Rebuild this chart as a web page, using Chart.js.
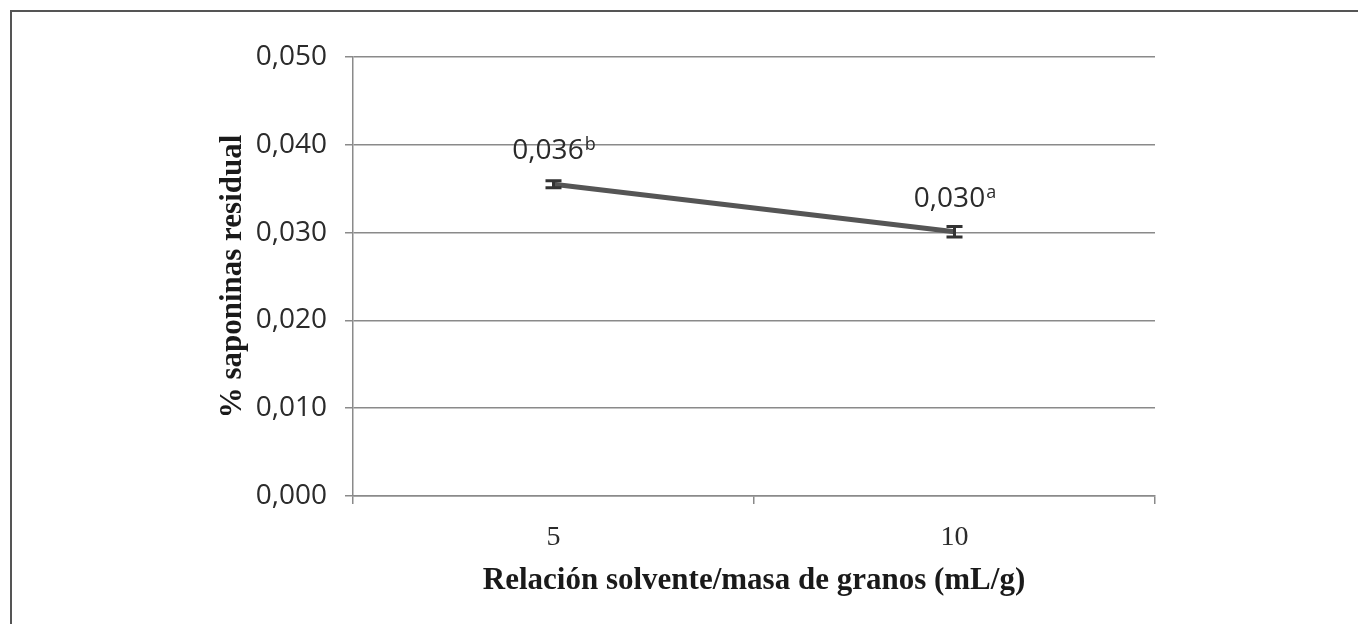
<!DOCTYPE html>
<html>
<head>
<meta charset="utf-8">
<script src="https://cdn.jsdelivr.net/npm/chart.js@4"></script>
<style>
  body { margin: 0; background: #fff; }
  canvas { display: block; }
</style>
</head>
<body>
<canvas id="grafico" width="1358" height="624"></canvas>
<script>
// datos
var categorias = ['5', '10'];
var saponinas = [0.0355, 0.0301];
var errores = [0.0004, 0.0006];
var etiquetas = ['0,036', '0,030'];
var letras = ['b', 'a'];
var yMin = 0, yMax = 0.05, yPaso = 0.01;

var GRIS = '#8a8a8a';
var TEXTO = '#2b2b2b';
var SANS = '"Open Sans", sans-serif';
var SERIF = '"Liberation Serif", "Times New Roman", serif';

// marco de la figura (solo arriba e izquierda)
var marcoPlugin = {
  id: 'marco',
  beforeDraw: function(chart){
    var ctx = chart.ctx;
    ctx.save();
    ctx.fillStyle = '#fff';
    ctx.fillRect(0, 0, chart.width, chart.height);
    ctx.strokeStyle = '#555';
    ctx.lineWidth = 2;
    ctx.beginPath();
    ctx.moveTo(11, chart.height);
    ctx.lineTo(11, 11);
    ctx.lineTo(chart.width, 11);
    ctx.stroke();
    ctx.restore();
  }
};

// barras de error y etiquetas con letra en superindice
var errorPlugin = {
  id: 'errores',
  afterDatasetsDraw: function(chart){
    var ctx = chart.ctx;
    var x = chart.scales.x, y = chart.scales.y;
    ctx.save();
    for (var i = 0; i < saponinas.length; i++) {
      var px = x.getPixelForValue(i);
      var yArr = y.getPixelForValue(saponinas[i] + errores[i]);
      var yAb = y.getPixelForValue(saponinas[i] - errores[i]);
      ctx.strokeStyle = '#333';
      ctx.lineWidth = 3;
      ctx.beginPath();
      ctx.moveTo(px, yArr); ctx.lineTo(px, yAb);
      ctx.moveTo(px - 8, yArr); ctx.lineTo(px + 8, yArr);
      ctx.moveTo(px - 8, yAb); ctx.lineTo(px + 8, yAb);
      ctx.stroke();

      // etiqueta
      var py = y.getPixelForValue(saponinas[i]) - 33;
      ctx.font = '28px ' + SANS;
      var w1 = ctx.measureText(etiquetas[i]).width;
      ctx.font = '18px ' + SANS;
      var w2 = ctx.measureText(letras[i]).width;
      var x0 = px - (w1 + w2) / 2;
      ctx.fillStyle = TEXTO;
      ctx.textBaseline = 'middle';
      ctx.textAlign = 'left';
      ctx.font = '28px ' + SANS;
      ctx.fillText(etiquetas[i], x0, py);
      ctx.font = '18px ' + SANS;
      ctx.fillText(letras[i], x0 + w1 + 1, py - 6);
    }
    ctx.restore();
  }
};

new Chart(document.getElementById('grafico'), {
  type: 'line',
  data: {
    labels: categorias,
    datasets: [{
      data: saponinas,
      borderColor: '#555',
      borderWidth: 5,
      pointRadius: 0,
      fill: false,
      tension: 0
    }]
  },
  options: {
    responsive: false,
    animation: false,
    layout: { padding: { top: 57, right: 203, bottom: 0, left: 0 } },
    plugins: {
      legend: { display: false },
      tooltip: { enabled: false }
    },
    scales: {
      x: {
        type: 'category',
        offset: true,
        grid: {
          offset: true,
          drawOnChartArea: false,
          drawTicks: true,
          tickLength: 8,
          color: GRIS,
          lineWidth: 1.5
        },
        border: { display: true, color: GRIS, width: 1.5 },
        ticks: {
          padding: 17,
          color: TEXTO,
          font: { family: SERIF, size: 28 }
        },
        title: {
          display: true,
          text: 'Relación solvente/masa de granos (mL/g)',
          color: '#1a1a1a',
          font: { family: SERIF, size: 31, weight: 'bold' },
          padding: { top: 0, bottom: 24 }
        },
        afterFit: function(scale){ scale.height = 128; }
      },
      y: {
        min: yMin,
        max: yMax,
        grid: {
          color: GRIS,
          lineWidth: 1.5,
          tickLength: 8
        },
        border: { display: true, color: GRIS, width: 1.5 },
        ticks: {
          stepSize: yPaso,
          padding: 18,
          color: TEXTO,
          font: { family: SANS, size: 28 },
          callback: function(v){ return v.toFixed(3).replace('.', ','); }
        },
        title: {
          display: true,
          text: '% saponinas residual',
          color: '#1a1a1a',
          font: { family: SERIF, size: 31, weight: 'bold' },
          padding: { top: 214, bottom: 0 }
        },
        afterFit: function(scale){ scale.width = 353; }
      }
    }
  },
  plugins: [marcoPlugin, errorPlugin]
});
</script>
</body>
</html>
